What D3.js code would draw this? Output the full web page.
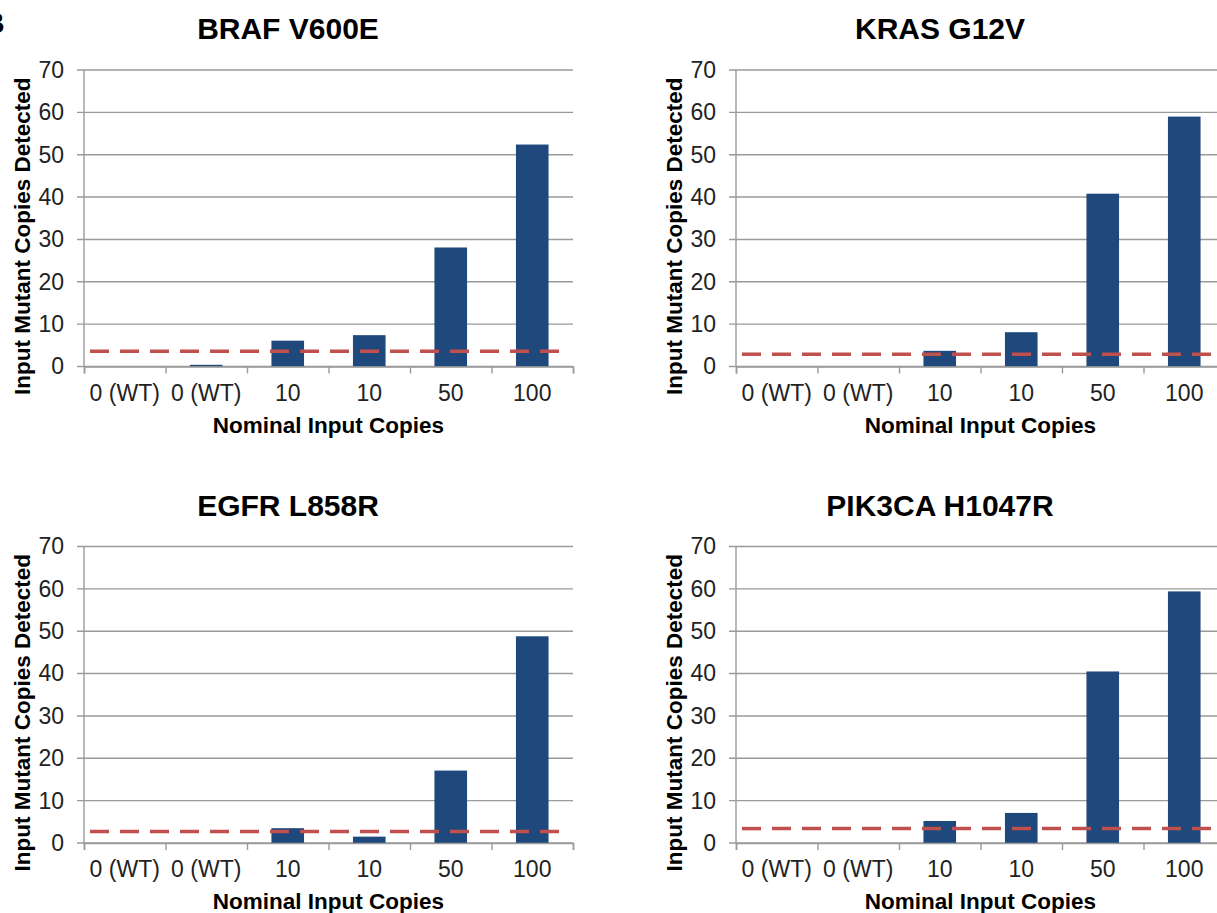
<!DOCTYPE html>
<html>
<head>
<meta charset="utf-8">
<script src="https://cdn.jsdelivr.net/npm/d3@7"></script>
<style>
  body { margin: 0; background: #fff; }
  svg { display: block; font-family: "Liberation Sans", Arial, sans-serif; }
</style>
</head>
<body>
<div id="chart"></div>
<script>
// data
const categories = ["0 (WT)", "0 (WT)", "10", "10", "50", "100"];
const panelTitles = ["BRAF V600E", "KRAS G12V", "EGFR L858R", "PIK3CA H1047R"];
const brafValues = [0, 0.4, 6.1, 7.4, 28.1, 52.4];
const krasValues = [0, 0, 3.7, 8.1, 40.8, 59.0];
const egfrValues = [0, 0, 3.5, 1.5, 17.1, 48.8];
const pik3caValues = [0, 0, 5.2, 7.1, 40.5, 59.4];
const cutoffs = [3.6, 2.9, 2.7, 3.4];
const yTicks = [0, 10, 20, 30, 40, 50, 60, 70];

const panelValues = [brafValues, krasValues, egfrValues, pik3caValues];

let width = 1217, height = 913;
let plotW = 489, plotH = 296.5;
let origins = [[84, 70], [736, 70], [84, 546.5], [736, 546.5]];

let svg = d3.select('#chart').append('svg')
  .attr('width', width)
  .attr('height', height);

// panel letter, cut off at the left edge as in the source figure
svg.append('text')
  .attr('x', -17).attr('y', 33)
  .style('font-size', '30px').style('font-weight', 'bold')
  .text('B');

panelValues.forEach(function(values, i) {
  let g = svg.append('g')
    .attr('transform', 'translate(' + origins[i][0] + ',' + origins[i][1] + ')');

  let x = d3.scaleBand()
    .domain(d3.range(categories.length))
    .range([0, plotW])
    .paddingInner(0.6)
    .paddingOuter(0.3);
  let xEdge = d3.scaleLinear().domain([0, categories.length]).range([0, plotW]);
  let y = d3.scaleLinear().domain([0, 70]).range([plotH, 0]);

  // gridlines
  g.append('g')
    .selectAll('line')
    .data(yTicks)
    .enter().append('line')
    .attr('x1', -7).attr('x2', plotW)
    .attr('y1', d => y(d)).attr('y2', d => y(d))
    .attr('stroke', '#9a9a9a').attr('stroke-width', 1.4);

  // y axis line and labels
  g.append('line')
    .attr('x1', 0).attr('x2', 0).attr('y1', 0).attr('y2', plotH)
    .attr('stroke', '#9a9a9a').attr('stroke-width', 1.4);

  let yAxis = g.append('g').call(d3.axisLeft(y).tickValues(yTicks).tickSize(0).tickPadding(20));
  yAxis.select('.domain').remove();
  yAxis.selectAll('text')
    .style('font-size', '23px').style('fill', '#222').style('font-family', '"Liberation Sans", Arial, sans-serif');

  // bars
  g.selectAll('rect.bar')
    .data(values)
    .enter().append('rect')
    .attr('class', 'bar')
    .attr('x', (d, j) => x(j))
    .attr('width', x.bandwidth())
    .attr('y', d => y(d))
    .attr('height', d => plotH - y(d))
    .attr('fill', '#1f497d');

  // x axis with ticks at category edges
  let xAxis = g.append('g')
    .attr('transform', 'translate(0,' + plotH + ')')
    .call(d3.axisBottom(xEdge).tickValues(d3.range(categories.length + 1)).tickSize(7).tickFormat(''));
  xAxis.select('.domain').attr('stroke', '#9a9a9a').attr('stroke-width', 1.6);
  xAxis.selectAll('.tick line').attr('stroke', '#9a9a9a').attr('stroke-width', 1.4);

  g.append('g')
    .selectAll('text')
    .data(categories)
    .enter().append('text')
    .attr('x', (d, j) => x(j) + x.bandwidth() / 2)
    .attr('y', plotH + 34)
    .attr('text-anchor', 'middle')
    .style('font-size', '23px').style('fill', '#222')
    .text(d => d);

  // detection cutoff
  g.append('line')
    .attr('x1', 6).attr('x2', plotW - 3)
    .attr('y1', y(cutoffs[i])).attr('y2', y(cutoffs[i]))
    .attr('stroke', '#c0504d').attr('stroke-width', 3.5)
    .attr('stroke-dasharray', '19,11');

  // titles
  g.append('text')
    .attr('x', 204).attr('y', -31)
    .attr('text-anchor', 'middle')
    .style('font-size', '30px').style('font-weight', 'bold')
    .text(panelTitles[i]);

  g.append('text')
    .attr('x', plotW / 2).attr('y', plotH + 66)
    .attr('text-anchor', 'middle')
    .style('font-size', '22.5px').style('font-weight', 'bold')
    .text('Nominal Input Copies');

  g.append('text')
    .attr('transform', 'translate(-62,' + (plotH / 2 + 18) + ') rotate(-90)')
    .attr('dy', '0.35em')
    .attr('text-anchor', 'middle')
    .style('font-size', '22.5px').style('font-weight', 'bold')
    .text('Input Mutant Copies Detected');
});
</script>
</body>
</html>
